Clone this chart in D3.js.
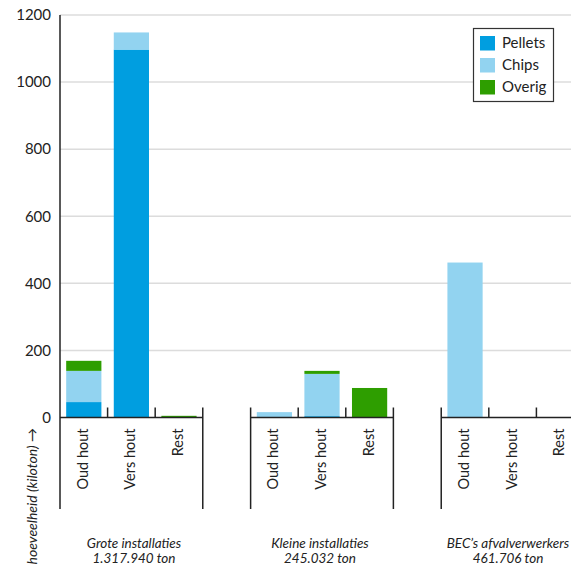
<!DOCTYPE html>
<html>
<head>
<meta charset="utf-8">
<script src="https://cdn.jsdelivr.net/npm/d3@7"></script>
<style>
  body { margin: 0; background: #fff; }
  text { font-family: Lato, "Open Sans", sans-serif; fill: #222; }
</style>
</head>
<body>
<div id="chart"></div>
<script>
var svgWidth = 571;
var svgHeight = 567;

// data (kiloton)
var groups = ["Grote installaties", "Kleine installaties", "BEC\u2019s afvalverwerkers"];
var groupTotals = ["1.317.940 ton", "245.032 ton", "461.706 ton"];
var categories = ["Oud hout", "Vers hout", "Rest"];
var seriesNames = ["Pellets", "Chips", "Overig"];
var colors = ["#009ee0", "#92d3f0", "#2e9e00"];

// one value per group x category (group by group)
var pellets = [46, 1097, 0,   0, 4, 0,    0, 0, 0];
var chips   = [93, 51, 0,     16, 126, 0, 462, 0, 0];
var overig  = [30, 0, 5,      0, 9, 88,   0, 0, 0];

var yTicks = [0, 200, 400, 600, 800, 1000, 1200];

var rows = [];
groups.forEach(function(g, gi) {
  categories.forEach(function(c, ci) {
    var i = gi * categories.length + ci;
    rows.push({ group: g, cat: c, Pellets: pellets[i], Chips: chips[i], Overig: overig[i] });
  });
});

var svg = d3.select("#chart")
  .append("svg")
  .attr("width", svgWidth)
  .attr("height", svgHeight);

var x0 = d3.scaleBand()
  .domain(groups)
  .range([60, 584])
  .paddingInner(0.251)
  .paddingOuter(0);

var x1 = d3.scaleBand()
  .domain(categories)
  .range([0, x0.bandwidth()])
  .paddingInner(0.26)
  .paddingOuter(0.13);

var y = d3.scaleLinear().domain([0, 1200]).range([417.5, 15]);

var baseY = y(0);
var bottomY = 509;

// gridlines
svg.append("g")
  .selectAll("line")
  .data(yTicks.filter(function(d) { return d > 0; }))
  .enter()
  .append("line")
  .attr("x1", 60)
  .attr("x2", svgWidth)
  .attr("y1", function(d) { return y(d); })
  .attr("y2", function(d) { return y(d); })
  .attr("stroke", "#dcdcdc")
  .attr("stroke-width", 1.5);

// y tick labels
svg.append("g")
  .selectAll("text")
  .data(yTicks)
  .enter()
  .append("text")
  .attr("x", 51)
  .attr("y", function(d) { return y(d); })
  .attr("dy", "0.35em")
  .attr("text-anchor", "end")
  .style("font-size", "15px")
  .text(function(d) { return d; });

// stacked bars
var stack = d3.stack().keys(seriesNames);
var layers = stack(rows);

svg.append("g")
  .selectAll("g")
  .data(layers)
  .enter()
  .append("g")
  .attr("fill", function(d, i) { return colors[i]; })
  .selectAll("rect")
  .data(function(d) { return d; })
  .enter()
  .append("rect")
  .attr("x", function(d) { return x0(d.data.group) + x1(d.data.cat); })
  .attr("width", x1.bandwidth())
  .attr("y", function(d) { return y(d[1]); })
  .attr("height", function(d) { return y(d[0]) - y(d[1]); });

// axis pieces per group
var axis = svg.append("g").attr("stroke", "#222").attr("stroke-width", 1.5);

groups.forEach(function(g, gi) {
  var gx = x0(g);
  var gw = x0.bandwidth();
  var right = Math.min(gx + gw, svgWidth + 2);
  axis.append("line")
    .attr("x1", gx).attr("x2", right)
    .attr("y1", baseY).attr("y2", baseY);
  // group edges
  axis.append("line")
    .attr("x1", gx).attr("x2", gx)
    .attr("y1", gi === 0 ? y(1200) : baseY - 10).attr("y2", bottomY);
  axis.append("line")
    .attr("x1", gx + gw).attr("x2", gx + gw)
    .attr("y1", baseY - 10).attr("y2", bottomY);
  // category separators
  for (var k = 1; k < categories.length; k++) {
    var tx = gx + k * x1.step();
    axis.append("line")
      .attr("x1", tx).attr("x2", tx)
      .attr("y1", baseY - 10).attr("y2", baseY);
  }
  // category labels
  categories.forEach(function(c) {
    var cx = gx + x1(c) + x1.bandwidth() / 2 - 1;
    svg.append("text")
      .attr("transform", "translate(" + cx + "," + (baseY + 11) + ") rotate(-90)")
      .attr("text-anchor", "end")
      .attr("dy", "0.35em")
      .style("font-size", "14.5px")
      .text(c);
  });
});

// group labels
var groupCenters = [134, 320, 508];
groups.forEach(function(g, gi) {
  var t = svg.append("text")
    .attr("x", groupCenters[gi])
    .attr("text-anchor", "middle")
    .style("font-size", "13.5px")
    .style("font-style", "italic");
  t.append("tspan").attr("x", groupCenters[gi]).attr("y", 548).text(g);
  t.append("tspan").attr("x", groupCenters[gi]).attr("y", 563).text(groupTotals[gi]);
});

// y axis title
svg.append("text")
  .attr("transform", "translate(37,428) rotate(-90)")
  .attr("text-anchor", "end")
  .style("font-size", "14px")
  .style("font-style", "italic")
  .text("hoeveelheid (kiloton) \u2192");

// legend
var legend = svg.append("g");
legend.append("rect")
  .attr("x", 473.5).attr("y", 28.5)
  .attr("width", 80).attr("height", 73)
  .attr("fill", "#fff")
  .attr("stroke", "#333")
  .attr("stroke-width", 1.2);

seriesNames.forEach(function(s, i) {
  legend.append("rect")
    .attr("x", 480).attr("y", 36 + i * 22)
    .attr("width", 15).attr("height", 14.5)
    .attr("fill", colors[i]);
  legend.append("text")
    .attr("x", 502).attr("y", 43 + i * 22)
    .attr("dy", "0.35em")
    .style("font-size", "15px")
    .text(s);
});
</script>
</body>
</html>
